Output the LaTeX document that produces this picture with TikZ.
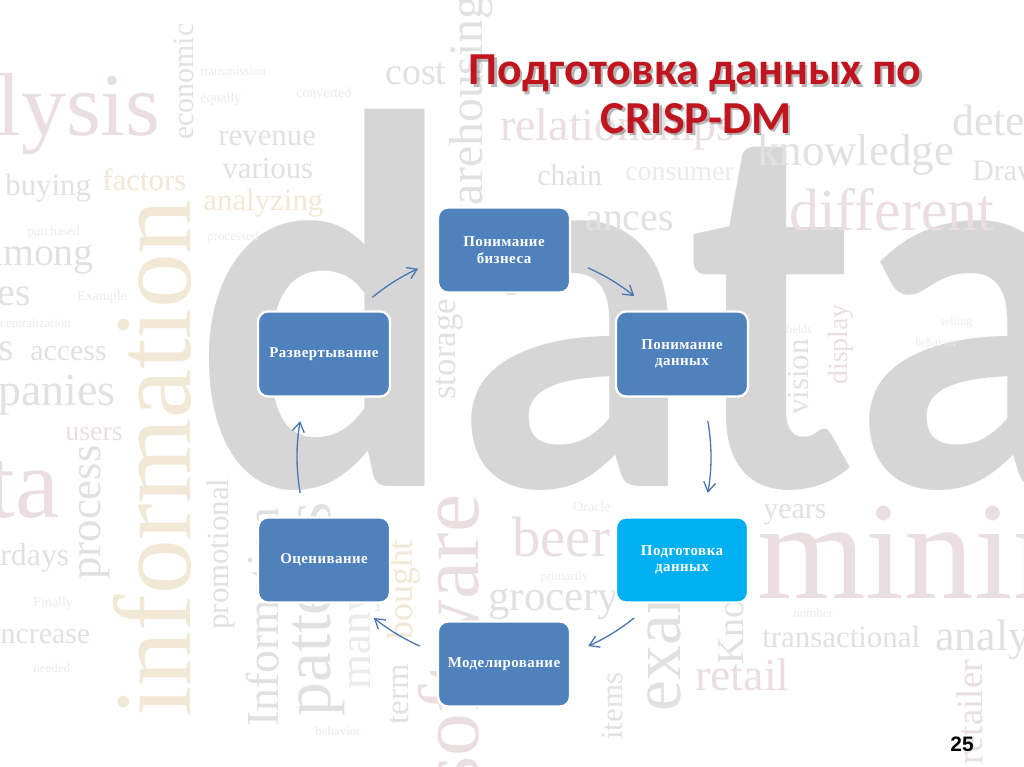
\documentclass[tikz,border=0pt]{standalone}
\usepackage{fontspec}
\setmainfont{Liberation Serif}
\newfontfamily\titlef{Carlito}
\newfontfamily\bigf{Carlito}
\newfontfamily\boxf[LetterSpace=3]{Liberation Serif}
\newfontfamily\numf{Liberation Sans}
\newfontfamily\bgf{Liberation Serif}
\usetikzlibrary{arrows.meta,calc}
\definecolor{boxblue}{HTML}{4F81BD}
\definecolor{boxcyan}{HTML}{00B0F0}
\definecolor{arrblue}{HTML}{4A78B0}
\definecolor{titred}{HTML}{C0141E}
\definecolor{bgA}{HTML}{D6D6D6}
\definecolor{bgG}{HTML}{E1E1E1}
\definecolor{bgL}{HTML}{EBEBEB}
\definecolor{bgP}{HTML}{EBDEE1}
\definecolor{bgY}{HTML}{F1E8D6}
\newdimen\pxd
\newcommand\px[2][1.2]{\pxd=#2pt\pxd=0.5669\pxd\edef\pxsz{\the\pxd}\pxd=#1\pxd\edef\pxsk{\the\pxd}\fontsize{\pxsz}{\pxsk}\selectfont}
\tikzset{
  bgw/.style={anchor=base west, inner sep=0pt, font=\bgf},
  bgv/.style={bgw, rotate=90},
  stage/.style={draw=white, line width=1.3pt, rounded corners=0.2cm, fill=boxblue,
    text=white, minimum width=2.64cm, minimum height=1.7cm, align=center,
    inner sep=2pt, font=\boxf\bfseries\px[1.12]{15}},
  ttl/.style={anchor=base, inner sep=0pt, font=\titlef\bfseries\px{46}, text=titred},
  ttlsh/.style={ttl, text=black, opacity=0.28},
  cyc/.style={draw=arrblue, line width=0.75pt, -{Straight Barb[length=1.9mm, width=2.4mm]}},
  pnum/.style={anchor=base, inner sep=0pt, font=\numf\bfseries\px{21}}
}
\begin{document}
\begin{tikzpicture}[x=0.02cm, y=-0.02cm]
\useasboundingbox (0,0) rectangle (1024,767);
\fill[white] (0,0) rectangle (1024,767);
\begin{scope}
\clip (0,0) rectangle (1024,767);
% big background word
\node[anchor=base west, inner sep=0pt, text=bgA] at (194,486) {\scalebox{0.9}[1]{\bigf\bfseries\px{540}data}};
\node[bgw, text=bgP] at (757,598) {\px{140}mining};
% horizontal words
\node[bgw, text=bgP] at (-4,135) {\px{90}lysis};
\node[bgw, text=bgG] at (385,85) {\px{38}cost};
\node[bgw, text=bgG] at (218,145) {\px{31}revenue};
\node[bgw, text=bgG] at (222,178) {\px{31}various};
\node[bgw, text=bgY] at (203,210) {\px{31}analyzing};
\node[bgw, text=bgY] at (102,190) {\px{31}factors};
\node[bgw, text=bgG] at (5,195) {\px{31}buying};
\node[bgw, text=bgG] at (-15,265) {\px{40}among};
\node[bgw, text=bgG] at (-3,305) {\px{40}es};
\node[bgw, text=bgG] at (-2,360) {\px{40}s};
\node[bgw, text=bgG] at (30,360) {\px{30}access};
\node[bgw, text=bgP] at (500,140) {\px{46}relationships};
\node[bgw, text=bgG] at (537,185) {\px{30}chain};
\node[bgw, text=bgL] at (625,180) {\px{28}consumer};
\node[bgw, text=bgG] at (757,165) {\px{45}knowledge};
\node[bgw, text=bgG] at (952,135) {\px{44}detect};
\node[bgw, text=bgG] at (972,180) {\px{30}Draw};
\node[bgw, text=bgP] at (789,230) {\px{60}different};
\node[bgw, text=bgG] at (585,230) {\px{40}ances};
\node[bgw, text=bgG] at (-2,405) {\px{46}panies};
\node[bgw, text=bgP] at (65,440) {\px{28}users};
\node[bgw, text=bgP] at (-13,517) {\px{100}ta};
\node[bgw, text=bgG] at (0,565) {\px{32}rdays};
\node[bgw, text=bgG] at (-8,643) {\px{30}increase};
\node[bgw, text=bgP] at (512,556) {\px{57}beer};
\node[bgw, text=bgG] at (763,518) {\px{30}years};
\node[bgw, text=bgG] at (488,610) {\px{43}grocery};
\node[bgw, text=bgG] at (762,647) {\px{31}transactional};
\node[bgw, text=bgG] at (935,650) {\px{44}analysis};
\node[bgw, text=bgP] at (695,690) {\px{46}retail};
% small words
\node[bgw, text=bgL] at (200,76) {\px{13}transmission};
\node[bgw, text=bgL] at (200,103) {\px{14}equally};
\node[bgw, text=bgL] at (296,97) {\px{14}converted};
\node[bgw, text=bgL] at (207,240) {\px{13}processed};
\node[bgw, text=bgL] at (27,235) {\px{13}purchased};
\node[bgw, text=bgL] at (77,300) {\px{14}Example};
\node[bgw, text=bgL] at (0,327) {\px{13}centralization};
\node[bgw, text=bgL] at (573,511) {\px{14}Oracle};
\node[bgw, text=bgL] at (540,580) {\px{13}primarily};
\node[bgw, text=bgL] at (793,617) {\px{13}number};
\node[bgw, text=bgL] at (785,333) {\px{12}fields};
\node[bgw, text=bgL] at (940,325) {\px{12}selling};
\node[bgw, text=bgL] at (915,346) {\px{12}behavior};
\node[bgw, text=bgL] at (33,606) {\px{14}Finally};
\node[bgw, text=bgL] at (33,672) {\px{13}needed};
\node[bgw, text=bgL] at (315,735) {\px{13}behavior};
% vertical words
\node[bgv, text=bgY] at (190,717) {\px{110}information};
\node[bgv, text=bgG] at (193,140) {\px{30}economic};
\node[bgv, text=bgG] at (482,240) {\px{48}warehousing};
\node[bgv, text=bgG] at (455,400) {\px{35}storage};
\node[bgv, text=bgG] at (100,580) {\px{45}process};
\node[bgv, text=bgG] at (228,630) {\px{31}promotional};
\node[bgv, text=bgG] at (278,727) {\px{46}Information};
\node[bgv, text=bgG] at (330,717) {\px{68}patterns};
\node[bgv, text=bgL] at (370,690) {\px{45}many};
\node[bgv, text=bgY] at (412,640) {\px{36}bought};
\node[bgv, text=bgG] at (408,725) {\px{33}term};
\node[bgv, text=bgP] at (478,790) {\px{86}software};
\node[bgv, text=bgG] at (680,712) {\px{70}exam};
\node[bgv, text=bgG] at (622,740) {\px{31}items};
\node[bgv, text=bgG] at (743,665) {\px{38}Kno};
\node[bgv, text=bgP] at (982,765) {\px{37}retailer};
\node[bgv, text=bgG] at (808,415) {\px{31}vision};
\node[bgv, text=bgP] at (847,385) {\px{28}display};
\end{scope}
% title
\node[ttlsh] (t1s) at (697.5,87.5) {Подготовка данных по};
\node[ttlsh] (t2s) at (698.5,135.5) {CRISP-DM};
\node[ttl] (t1) at (695,85) {Подготовка данных по};
\node[ttl] (t2) at (696,133) {CRISP-DM};
% stages
\node[stage] (biz) at (504,250) {Понимание\\бизнеса};
\node[stage] (dat) at (682,354) {Понимание\\данных};
\node[stage, fill=boxcyan] (prep) at (682,560) {Подготовка\\данных};
\node[stage] (mod) at (504,664) {Моделирование};
\node[stage] (eval) at (324,560) {Оценивание};
\node[stage] (depl) at (324,354) {Развертывание};
% cycle arrows
\coordinate (ctr) at ($(biz)!0.5!(mod)$);
\foreach \a/\b/\n in {129.5/114.5/1, 66/51/2, 10/-10/3, -51/-66/4, -114/-129/5, -170/-190/6}{
  \path (ctr) ++(\a:4.14cm) coordinate (s\n);
  \draw[cyc] (s\n) arc[start angle=\a, end angle=\b, radius=4.14cm];
}
% page number
\node[pnum] (pg) at (962,751) {25};
\end{tikzpicture}
\end{document}
